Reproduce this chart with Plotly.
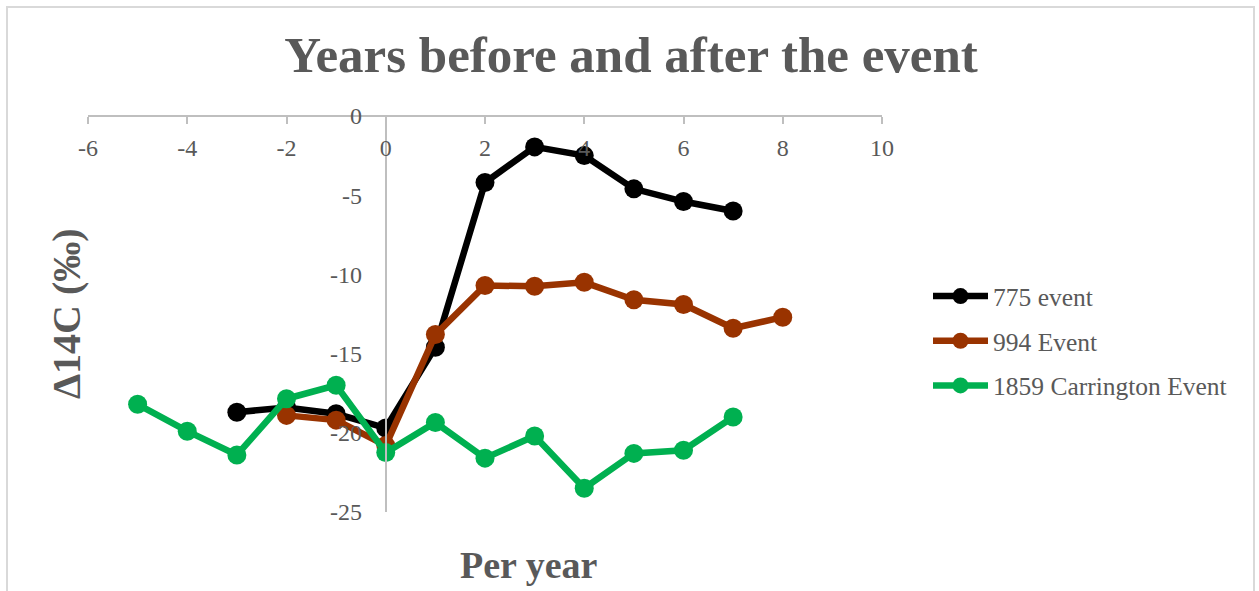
import plotly.graph_objects as go

x_775 = [-3, -2, -1, 0, 1, 2, 3, 4, 5, 6, 7]
y_775 = [-18.7, -18.4, -18.8, -19.7, -14.6, -4.2, -1.95, -2.5, -4.6, -5.4, -6.0]

x_994 = [-2, -1, 0, 1, 2, 3, 4, 5, 6, 7, 8]
y_994 = [-18.9, -19.2, -20.8, -13.8, -10.7, -10.75, -10.5, -11.6, -11.9, -13.4, -12.7]

x_1859 = [-5, -4, -3, -2, -1, 0, 1, 2, 3, 4, 5, 6, 7]
y_1859 = [-18.2, -19.9, -21.4, -17.85, -17.0, -21.25, -19.35, -21.6, -20.2, -23.5, -21.3, -21.1, -19.0]

x_ticks = [-6, -4, -2, 0, 2, 4, 6, 8, 10]
x_ticklabels = ["-6", "-4", "-2", "0", "2", "4", "6", "8", "10"]
y_ticks = [0, -5, -10, -15, -20, -25]
y_ticklabels = ["0", "-5", "-10", "-15", "-20", "-25"]

series = [
    ("775 event", x_775, y_775, "#000000"),
    ("994 Event", x_994, y_994, "#993300"),
    ("1859 Carrington Event", x_1859, y_1859, "#00B050"),
]

FONT = "Liberation Serif"
GRAY = "#595959"
AX = "#BFBFBF"

W, H = 1259, 591
L, R, T, B = 88, 377, 116, 79
PW, PH = W - L - R, H - T - B

def px(xp):
    return (xp - L) / PW

def py(yp):
    return (H - B - yp) / PH

fig = go.Figure()
for i, (name, xs, ys, c) in enumerate(series):
    fig.add_trace(go.Scatter(
        x=xs, y=ys, name=name, mode="lines+markers", legendgroup=f"g{i}",
        line=dict(color=c, width=6.5),
        marker=dict(color=c, size=19),
    ))

fig.update_layout(
    width=W, height=H,
    margin=dict(l=L, r=R, t=T, b=B),
    paper_bgcolor="white", plot_bgcolor="white",
    font=dict(family=FONT, color=GRAY),
    title=dict(text="<b>Years before and after the event</b>",
               x=631 / W, xanchor="center", y=1 - 54 / H, yanchor="middle",
               font=dict(size=51, color=GRAY, family=FONT)),
    xaxis=dict(range=[-6, 10], tickvals=x_ticks, ticktext=x_ticklabels,
               anchor="free", position=1, side="bottom", showline=True, linecolor=AX,
               linewidth=2, ticks="outside", ticklen=7, tickcolor=AX, tickwidth=2,
               ticklabelstandoff=3, showgrid=False, zeroline=False,
               tickfont=dict(size=24, color=GRAY, family=FONT), domain=[0, 1]),
    yaxis=dict(range=[-25, 0], tickvals=y_ticks, ticktext=y_ticklabels,
               anchor="free", position=0.375,
               showline=True, linecolor=AX, linewidth=2, ticks="outside",
               ticklen=18, tickcolor="rgba(0,0,0,0)", showgrid=False, zeroline=False,
               tickfont=dict(size=24, color=GRAY, family=FONT), domain=[0, 1]),
    legend=dict(x=px(928), xanchor="left", y=py(273), yanchor="top",
                font=dict(size=25.5, color=GRAY, family=FONT), bgcolor="rgba(0,0,0,0)",
                itemwidth=55, tracegroupgap=8.5, traceorder="grouped"),
    annotations=[
        dict(text="<b>Per year</b>", xref="paper", yref="paper", x=px(529), y=py(565),
             xanchor="center", yanchor="middle", showarrow=False,
             font=dict(size=38, color=GRAY, family=FONT)),
        dict(text="<b>Δ14C (‰)</b>", xref="paper", yref="paper", x=px(66), y=py(314),
             xanchor="center", yanchor="middle", showarrow=False, textangle=-90,
             font=dict(size=40, color=GRAY, family=FONT)),
    ],
    shapes=[
        dict(type="path", xref="paper", yref="paper",
             path=f"M {px(7)} {py(600)} L {px(7)} {py(7)} L {px(1254)} {py(7)} L {px(1254)} {py(600)}",
             line=dict(color="#D9D9D9", width=2)),
    ],
)

fig.write_html("out.html")
